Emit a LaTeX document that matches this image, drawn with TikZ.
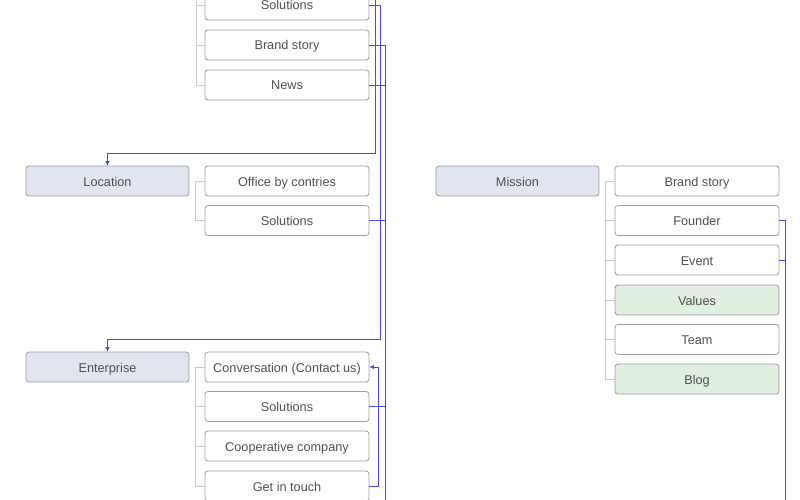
\documentclass[tikz,border=0pt]{standalone}
\usepackage{fontspec}
\setmainfont{Liberation Sans}
\usepackage{tikz}
\usetikzlibrary{arrows.meta}

\definecolor{linkblue}{HTML}{4646F2}
\definecolor{treegray}{HTML}{C8C8C8}
\definecolor{boxgray}{HTML}{9C9C9C}
\definecolor{headfill}{HTML}{E1E5EF}
\definecolor{donefill}{HTML}{E1EFE1}
\definecolor{textgray}{HTML}{505050}

\tikzset{
    item/.style={draw=boxgray, rounded corners=3pt, minimum width=164pt, minimum height=30pt,
        inner sep=0pt, line width=0.8pt, text=textgray, font=\fontsize{12.7}{14}\selectfont,
        text height=10pt, text depth=0pt},
    head/.style={item, minimum width=163pt, fill=headfill},
    done/.style={item, fill=donefill},
    tree/.style={draw=treegray, line width=0.8pt},
    link/.style={draw=linkblue, line width=0.8pt},
    tip/.style={-{Latex[length=4.5pt,width=4.5pt]}}
}

\begin{document}
\begin{tikzpicture}[x=1pt,y=-1pt]
    \useasboundingbox (0,0) rectangle (800,500);
    \clip (0,0) rectangle (800,500);

    % heads
    \node[head] (loc) at (107.5,181) {Location};
    \node[head] (ent) at (107.5,367) {Enterprise};
    \node[head] (mis) at (517.5,181) {Mission};

    % first column of items
    \node[item] (sol1) at (287,5) {Solutions};
    \node[item] (story1) at (287,45) {Brand story};
    \node[item] (news) at (287,85) {News};
    \node[item] (office) at (287,181) {Office by contries};
    \node[item] (sol2) at (287,220.5) {Solutions};
    \node[item] (conv) at (287,367) {Conversation (Contact us)};
    \node[item] (sol3) at (287,406.5) {Solutions};
    \node[item] (coop) at (287,446) {Cooperative company};
    \node[item] (touch) at (287,486) {Get in touch};

    % second column of items
    \node[item] (story2) at (697,181) {Brand story};
    \node[item] (founder) at (697,220.5) {Founder};
    \node[item] (event) at (697,260) {Event};
    \node[done] (values) at (697,300) {Values};
    \node[item] (team) at (697,339.5) {Team};
    \node[done] (blog) at (697,379) {Blog};

    % free ends outside the frame
    \coordinate (up1) at (196,-30);
    \coordinate (up2) at (375,-30);
    \coordinate (down1) at (385,530);
    \coordinate (down2) at (785,530);

    % brackets
    \draw[tree] (up1) |- (sol1.west);
    \draw[tree] (up1) |- (story1.west);
    \draw[tree] (up1) |- (news.west);
    \draw[tree] (office.west) -- ++(-9,0) |- (sol2.west);
    \draw[tree] (conv.west) -- ++(-9,0) |- (touch.west);
    \draw[tree] (sol3.west) -- ++(-9,0);
    \draw[tree] (coop.west) -- ++(-9,0);
    \draw[tree] (story2.west) -- ++(-9,0) |- (blog.west);
    \draw[tree] (founder.west) -- ++(-9,0);
    \draw[tree] (event.west) -- ++(-9,0);
    \draw[tree] (values.west) -- ++(-9,0);
    \draw[tree] (team.west) -- ++(-9,0);

    % links
    \draw[link,tip] (up2) |- ([yshift=12pt]loc.north) -- (loc.north);
    \draw[link,tip] (sol1.east) -- ++(11,0) |- ([yshift=12pt]ent.north) -- (ent.north);
    \draw[link] (story1.east) -| (down1);
    \draw[link] (news.east) -| (down1);
    \draw[link] (sol2.east) -| (down1);
    \draw[link] (sol3.east) -| (down1);
    \draw[link,tip] (touch.east) -- ++(9,0) |- (conv.east);
    \draw[link] (founder.east) -| (down2);
    \draw[link] (event.east) -| (down2);
\end{tikzpicture}
\end{document}
